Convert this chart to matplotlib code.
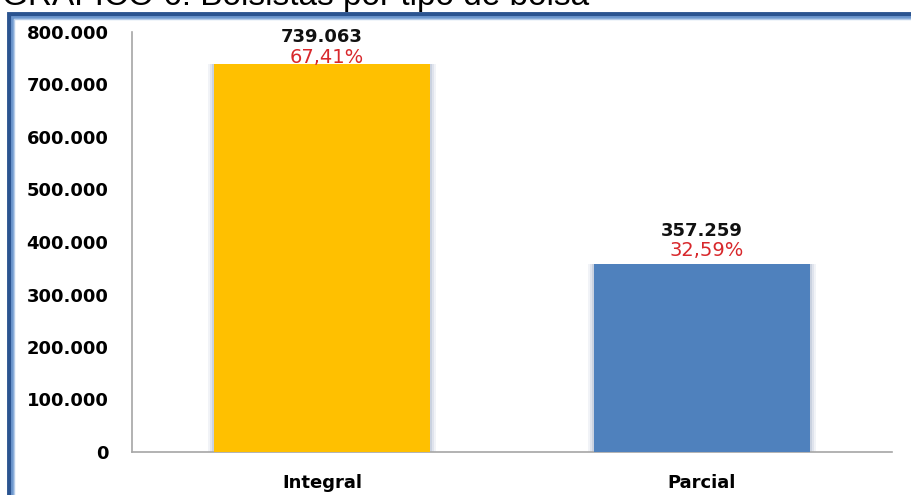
import matplotlib

matplotlib.use("Agg")
import matplotlib.pyplot as plt
from matplotlib.patches import Rectangle
from matplotlib.ticker import FuncFormatter

# Bolsistas por tipo de bolsa
categories = ["Integral", "Parcial"]
counts = [739063, 357259]
shares = [67.41, 32.59]
y_ticks = [0, 100000, 200000, 300000, 400000, 500000, 600000, 700000, 800000]

BAR_COLORS = ["#FFC000", "#4F81BD"]
PCT_COLOR = "#D8282C"
FONT = "DejaVu Sans"


def br_thousands(v, _pos=None):
    # Brazilian formatting: dot as thousands separator
    return f"{int(v):,}".replace(",", ".")


fig = plt.figure(figsize=(9.12, 4.95), dpi=100)
W, H = 912, 495

# Title (partly clipped by the top edge)
fig.text(2 / W, 1 - 4.5 / H, "GRÁFICO 6: Bolsistas por tipo de bolsa",
         fontsize=24, family="Liberation Sans", va="baseline", ha="left")

# Blue frame around the chart
fig.add_artist(Rectangle((9 / W, -0.1), 1.2, 1 - 13.5 / H + 0.1, transform=fig.transFigure,
                         fill=False, edgecolor="#2B5490", linewidth=3.5))
fig.add_artist(Rectangle((12.5 / W, -0.1), 1.2, 1 - 17 / H + 0.1, transform=fig.transFigure,
                         fill=False, edgecolor="#6E98CE", linewidth=2))
fig.add_artist(Rectangle((14.5 / W, -0.1), 1.2, 1 - 19 / H + 0.1, transform=fig.transFigure,
                         fill=False, edgecolor="#B7CDEA", linewidth=1))

ax = fig.add_axes([132 / W, 1 - 452 / H, 760 / W, 420 / H])
x = list(range(len(categories)))

# soft shadow on the bar sides
for extra, alpha in [(0.03, 0.10), (0.018, 0.15), (0.008, 0.22)]:
    ax.bar(x, counts, width=0.57 + extra, color="#7F93B5", alpha=alpha,
           linewidth=0, zorder=2)
ax.bar(x, counts, width=0.57, color=BAR_COLORS, linewidth=0, zorder=3)

ax.set_xlim(-0.5, 1.5)
ax.set_ylim(0, 800000)
ax.set_yticks(y_ticks)
ax.yaxis.set_major_formatter(FuncFormatter(br_thousands))
ax.set_xticks(x)
ax.set_xticklabels(categories)
ax.tick_params(axis="both", length=0, labelsize=13)
ax.tick_params(axis="y", pad=17)
ax.tick_params(axis="x", pad=16)
for lbl in ax.get_xticklabels() + ax.get_yticklabels():
    lbl.set_fontweight("bold")
    lbl.set_family(FONT)

for side in ["top", "right"]:
    ax.spines[side].set_visible(False)
for side in ["left", "bottom"]:
    ax.spines[side].set_color("#A6A6A6")
    ax.spines[side].set_linewidth(1.2)

# Value and share labels above each bar
value_offsets = [27, 33]
pct_offsets = [6, 14]
for i, (n, p) in enumerate(zip(counts, shares)):
    ax.annotate(br_thousands(n), (i, n), xytext=(0, value_offsets[i] / 1.389),
                textcoords="offset points", ha="center", va="center",
                fontsize=13, fontweight="bold", family=FONT, color="#111111")
    ax.annotate(f"{p:.2f}%".replace(".", ","), (i, n),
                xytext=(5 / 1.389, pct_offsets[i] / 1.389),
                textcoords="offset points", ha="center", va="center",
                fontsize=14, family=FONT, color=PCT_COLOR)

fig.savefig("out.png", dpi=100)
